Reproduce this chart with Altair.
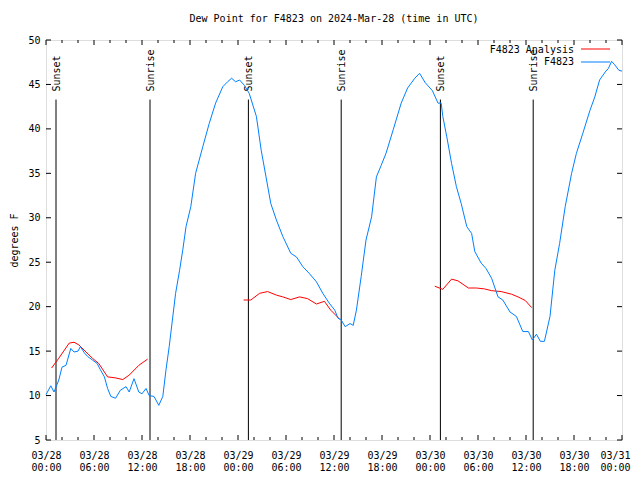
import json
import altair as alt
import pandas as pd

# ---- data ----
obs_hours = [0.0, 0.6, 1.0, 1.6, 2.0, 2.5, 3.1, 3.5, 4.0, 4.3, 4.8, 5.2, 5.8, 6.4, 6.8, 7.3, 7.7, 8.1,
             8.7, 9.3, 10.0, 10.4, 11.0, 11.6, 12.0, 12.5, 12.9, 13.5, 14.1, 14.6, 15.0, 15.4, 15.8,
             16.2, 16.7, 17.1, 17.5, 18.1, 18.7, 19.6, 20.4, 21.2, 22.1, 22.7, 23.2, 23.7, 24.2, 24.8,
             25.4, 26.3, 26.9, 27.5, 28.1, 28.8, 29.6, 30.6, 31.3, 32.1, 32.9, 33.8, 34.6, 35.4, 36.1,
             36.5, 36.9, 37.4, 38.0, 38.4, 38.8, 39.4, 40.0, 40.7, 41.3, 41.9, 42.5, 43.4, 44.4, 45.2,
             46.1, 46.7, 47.4, 48.3, 49.0, 49.4, 49.6, 50.1, 50.7, 51.3, 51.9, 52.6, 53.2, 53.6, 54.4,
             55.0, 55.7, 56.5, 57.1, 58.0, 58.8, 59.6, 60.3, 60.8, 61.3, 61.8, 62.3, 63.0, 63.6, 64.2,
             64.9, 65.7, 66.3, 67.1, 68.0, 68.6, 69.2, 69.9, 70.3, 70.7, 71.1, 71.6, 72.0]
obs_values = [10.1, 11.1, 10.4, 11.75, 13.2, 13.4, 15.3, 14.9, 15.0, 15.5, 14.8, 14.4, 14.0, 13.6, 12.9,
              12.1, 10.8, 9.9, 9.7, 10.6, 11.0, 10.4, 11.9, 10.4, 10.2, 10.8, 10.0, 9.9, 8.9, 9.9, 12.9,
              15.5, 18.5, 21.5, 24.1, 26.4, 29.0, 31.25, 35.0, 38.0, 40.6, 42.9, 44.75, 45.3, 45.7, 45.3,
              45.5, 44.9, 44.0, 41.4, 37.6, 34.6, 31.6, 29.75, 27.9, 26.0, 25.6, 24.5, 23.75, 22.8, 21.5,
              20.4, 19.6, 18.7, 18.5, 17.75, 18.1, 17.9, 19.6, 23.4, 27.5, 30.1, 34.6, 35.9, 37.25, 39.9,
              42.9, 44.6, 45.7, 46.25, 45.2, 44.3, 42.9, 42.9, 41.4, 39.1, 36.1, 33.5, 31.6, 29.0, 28.25,
              26.2, 24.9, 24.3, 23.2, 21.1, 20.75, 19.4, 18.9, 17.2, 17.2, 16.25, 16.9, 16.1, 16.1, 18.9,
              24.1, 27.1, 31.25, 35.0, 37.25, 39.5, 42.1, 43.6, 45.5, 46.4, 46.8, 47.6, 47.2, 46.6, 46.5]

ana1_hours = [0.7, 1.6, 2.9, 3.5, 4.1, 5.0, 5.8, 6.6, 7.7, 8.6, 9.6, 10.4, 11.6, 12.7]
ana1_values = [13.1, 14.2, 15.9, 16.0, 15.7, 14.9, 14.2, 13.6, 12.1, 12.0, 11.8, 12.3, 13.4, 14.1]
ana2_hours = [24.7, 25.6, 26.7, 27.7, 28.8, 29.6, 30.6, 31.7, 32.7, 33.8, 34.8, 35.6, 36.7]
ana2_values = [20.75, 20.75, 21.5, 21.7, 21.3, 21.1, 20.8, 21.1, 20.9, 20.3, 20.6, 19.6, 18.6]
ana3_hours = [48.6, 49.6, 50.7, 51.5, 52.8, 53.8, 54.8, 55.7, 56.9, 58.2, 59.0, 59.9, 60.7]
ana3_values = [22.3, 21.95, 23.1, 22.9, 22.1, 22.1, 22.0, 21.8, 21.7, 21.4, 21.1, 20.7, 19.9]

event_hours = [1.25, 13.0, 25.3, 36.9, 49.3, 60.9]
event_labels = ["Sunset", "Sunrise", "Sunset", "Sunrise", "Sunset", "Sunrise"]
event_top = 43.3

x_major = [0, 6, 12, 18, 24, 30, 36, 42, 48, 54, 60, 66, 72]
x_minor = [h for h in range(0, 73, 2) if h % 6 != 0]
x_tick_labels = [["03/28", "00:00"], ["03/28", "06:00"], ["03/28", "12:00"], ["03/28", "18:00"],
                 ["03/29", "00:00"], ["03/29", "06:00"], ["03/29", "12:00"], ["03/29", "18:00"],
                 ["03/30", "00:00"], ["03/30", "06:00"], ["03/30", "12:00"], ["03/30", "18:00"],
                 ["03/31", "00:00"]]
y_ticks = [5, 10, 15, 20, 25, 30, 35, 40, 45, 50]

legend_names = ["F4823 Analysis", "F4823"]
RED = "#ff0000"
BLUE = "#0080ff"
FONT = "DejaVu Sans Mono"
W, H = 576, 400

# ---- tables ----
obs = pd.DataFrame({"h": obs_hours, "v": obs_values})
ana = pd.concat([
    pd.DataFrame({"h": ana1_hours, "v": ana1_values, "seg": 1}),
    pd.DataFrame({"h": ana2_hours, "v": ana2_values, "seg": 2}),
    pd.DataFrame({"h": ana3_hours, "v": ana3_values, "seg": 3}),
])
events = pd.DataFrame({"h": event_hours, "label": event_labels, "top": event_top, "bottom": 5})
xmaj = pd.DataFrame({"h": x_major})
xmin = pd.DataFrame({"h": x_minor})
yt = pd.DataFrame({"v": y_ticks})

label_expr = json.dumps(x_tick_labels) + "[round(datum.value/6)]"

xs = alt.Scale(domain=[0, 72], nice=False, zero=False)
ys = alt.Scale(domain=[5, 50], nice=False, zero=False)

x_axis = alt.Axis(values=x_major, labelExpr=label_expr, ticks=False, domain=False, grid=False,
                  labelPadding=10, labelLineHeight=12, labelFont=FONT, labelFontSize=10,
                  labelColor="black", title=None, labelBaseline="top", labelOverlap=False,
                  labelFlush=False, labelBound=False, labelAlign="center",
                  labelOffset={"condition": {"test": f"datum.value == {x_major[-1]}", "value": -7},
                               "value": 0})
y_axis = alt.Axis(values=y_ticks, ticks=False, domain=False, grid=False, labelPadding=6,
                  labelFont=FONT, labelFontSize=10, labelColor="black", title="degrees F",
                  labelOverlap=False, labelFlush=False,
                  titleFont=FONT, titleFontSize=10, titleFontWeight="normal", titleColor="black",
                  titleX=-32, titleY=200, titleAngle=270, titleAlign="center", titleBaseline="middle")

base_obs = alt.Chart(obs).mark_line(color=BLUE, strokeWidth=1, interpolate="linear").encode(
    x=alt.X("h:Q", scale=xs, axis=x_axis),
    y=alt.Y("v:Q", scale=ys, axis=y_axis),
)
ana_line = alt.Chart(ana).mark_line(color=RED, strokeWidth=1).encode(
    x=alt.X("h:Q", scale=xs), y=alt.Y("v:Q", scale=ys), detail="seg:N")

ev_rule = alt.Chart(events).mark_rule(color="black", strokeWidth=1).encode(
    x=alt.X("h:Q", scale=xs), y=alt.Y("top:Q", scale=ys), y2="bottom:Q")
ev_text = alt.Chart(events).mark_text(angle=270, align="left", baseline="middle", dx=8, dy=1,
                                      font=FONT, fontSize=10, color="black").encode(
    x=alt.X("h:Q", scale=xs), y=alt.Y("top:Q", scale=ys), text="label:N")

tick_maj_b = alt.Chart(xmaj).mark_rule(color="black").encode(
    x=alt.X("h:Q", scale=xs), y=alt.value(H), y2=alt.value(H - 5))
tick_maj_t = alt.Chart(xmaj).mark_rule(color="black").encode(
    x=alt.X("h:Q", scale=xs), y=alt.value(0), y2=alt.value(5))
tick_min_b = alt.Chart(xmin).mark_rule(color="black").encode(
    x=alt.X("h:Q", scale=xs), y=alt.value(H), y2=alt.value(H - 3))
tick_min_t = alt.Chart(xmin).mark_rule(color="black").encode(
    x=alt.X("h:Q", scale=xs), y=alt.value(0), y2=alt.value(3))
tick_y_l = alt.Chart(yt).mark_rule(color="black").encode(
    y=alt.Y("v:Q", scale=ys), x=alt.value(0), x2=alt.value(5))
tick_y_r = alt.Chart(yt).mark_rule(color="black").encode(
    y=alt.Y("v:Q", scale=ys), x=alt.value(W), x2=alt.value(W - 5))

leg_df = pd.DataFrame({"name": legend_names})
leg_t1 = alt.Chart(leg_df.iloc[[0]]).mark_text(align="right", baseline="middle", font=FONT,
                                                fontSize=10, color="black").encode(
    x=alt.value(528), y=alt.value(10), text="name:N")
leg_t2 = alt.Chart(leg_df.iloc[[1]]).mark_text(align="right", baseline="middle", font=FONT,
                                                fontSize=10, color="black").encode(
    x=alt.value(528), y=alt.value(22), text="name:N")
leg_l1 = alt.Chart(leg_df.iloc[[0]]).mark_rule(color=RED).encode(
    x=alt.value(535), x2=alt.value(564), y=alt.value(9))
leg_l2 = alt.Chart(leg_df.iloc[[1]]).mark_rule(color=BLUE).encode(
    x=alt.value(535), x2=alt.value(564), y=alt.value(22))

chart = alt.layer(
    ev_rule, ev_text, ana_line, base_obs,
    tick_maj_b, tick_maj_t, tick_min_b, tick_min_t, tick_y_l, tick_y_r,
    leg_t1, leg_t2, leg_l1, leg_l2,
).properties(
    width=W, height=H,
    title=alt.TitleParams("Dew Point for F4823 on 2024-Mar-28 (time in UTC)", font=FONT, fontSize=10,
                          fontWeight="normal", color="black", anchor="middle", offset=11),
    autosize=alt.AutoSizeParams(type="none"),
    padding={"left": 38, "top": 32, "right": 10, "bottom": 32},
).configure_view(stroke="black", strokeWidth=1).configure(background="white")

chart.save("out.html", embed_options={"renderer": "svg", "actions": False})
